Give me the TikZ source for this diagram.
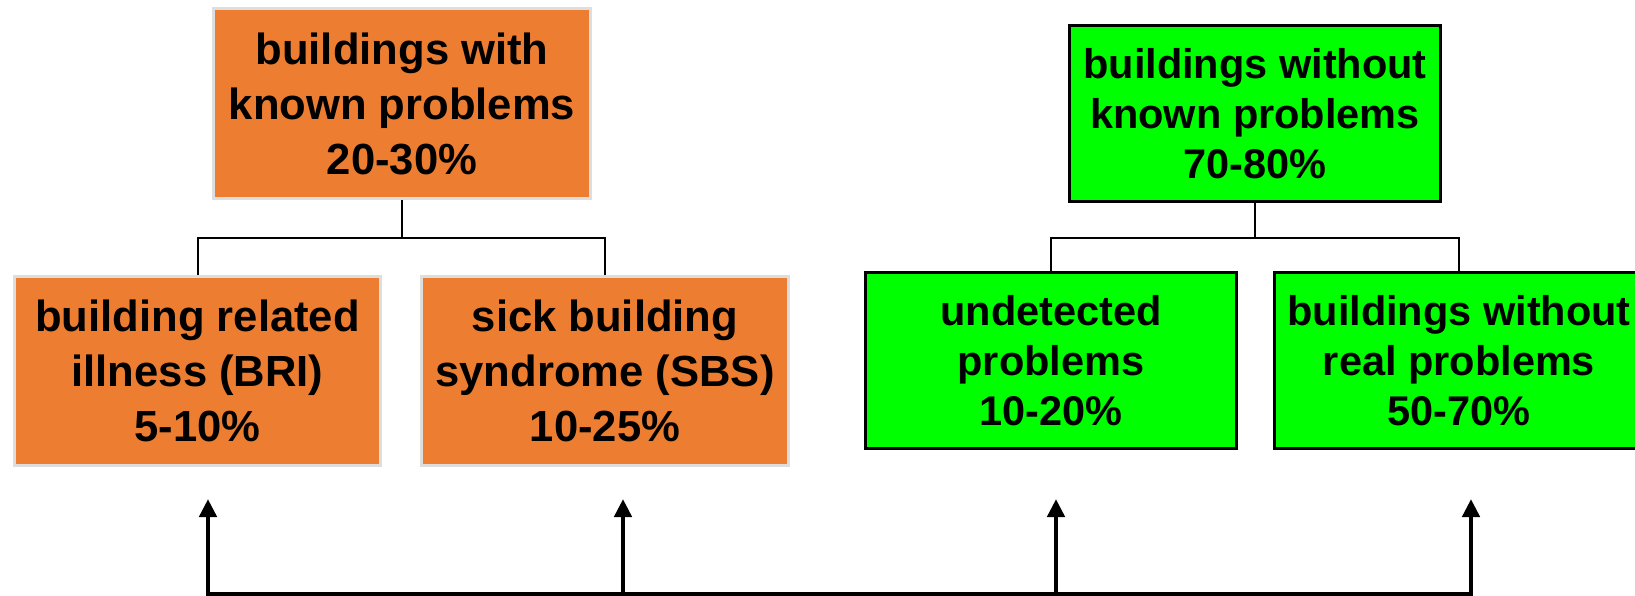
\documentclass[tikz,border=0pt]{standalone}
\usepackage{fontspec}
\setmainfont{Liberation Sans}
\usetikzlibrary{arrows.meta}
\definecolor{probfill}{RGB}{237,125,49}
\definecolor{probline}{RGB}{222,222,222}
\definecolor{okfill}{RGB}{0,255,0}

\begin{document}
\begin{tikzpicture}[x=1pt,y=-1pt,
  probbox/.style={draw=probline,line width=3pt,fill=probfill,align=center,inner sep=0pt,minimum width=#1,minimum height=189pt,font=\fontsize{43.6}{55}\selectfont\bfseries},
  okbox/.style={draw=black,line width=3pt,fill=okfill,align=center,inner sep=0pt,minimum width=#1,minimum height=176pt,font=\fontsize{41.5}{50}\selectfont\bfseries},
  link/.style={draw=black,line width=2pt},
  feed/.style={draw=black,line width=4.5pt,-{Triangle[length=18pt,width=17pt]}},
  feedbar/.style={draw=black,line width=4.5pt,line cap=rect}]
\useasboundingbox (0,0) rectangle (1635,596);
\node[probbox=377pt,minimum height=190pt] (known) at (402,103.5) {buildings with\\known problems\\20-30\%};
\node[probbox=366pt] (bri) at (197.5,371) {building related\\illness (BRI)\\5-10\%};
\node[probbox=367pt] (sbs) at (605,371) {sick building\\syndrome (SBS)\\10-25\%};
\node[okbox=371pt] (unknown) at (1255,113.5) {buildings without\\known problems\\70-80\%};
\node[okbox=371pt] (undet) at (1051,360.5) {undetected\\problems\\10-20\%};
\node[okbox=369pt] (real) at (1459,360.5) {buildings without\\real problems\\50-70\%};
% tree links
\coordinate (kj) at (402,237.5);
\coordinate (uj) at (1255,237.5);
\draw[link] (known.south) -- (kj);
\draw[link] (kj) -| (bri.north);
\draw[link] (kj) -| (sbs.north);
\draw[link] (unknown.south) -- (uj);
\draw[link] (uj) -| (undet.north);
\draw[link] (uj) -| (real.north);
% feedback arrows
\coordinate (f1) at (208,594);
\coordinate (f2) at (623,594);
\coordinate (f3) at (1056,594);
\coordinate (f4) at (1471,594);
\coordinate (t1) at (208,499);
\coordinate (t2) at (623,499);
\coordinate (t3) at (1056,499);
\coordinate (t4) at (1471,499);
\draw[feedbar] (f1) -- (f4);
\draw[feed] (f1) -- (t1);
\draw[feed] (f2) -- (t2);
\draw[feed] (f3) -- (t3);
\draw[feed] (f4) -- (t4);
\end{tikzpicture}
\end{document}
